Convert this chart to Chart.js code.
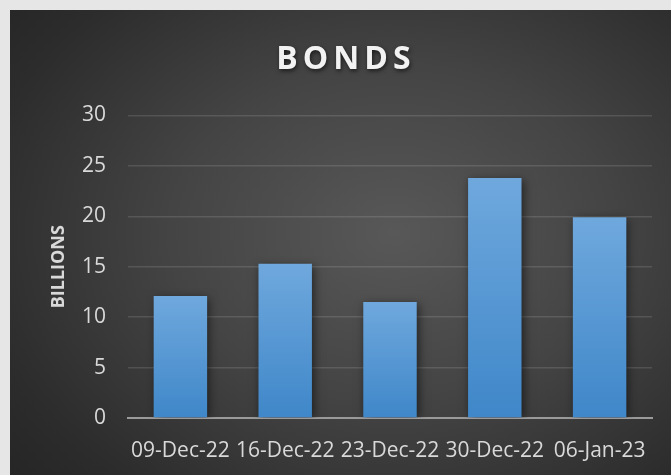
<!DOCTYPE html>
<html>
<head>
<meta charset="utf-8">
<script src="https://cdn.jsdelivr.net/npm/chart.js@4"></script>
<style>
    html, body { margin: 0; padding: 0; background: #e6e6e6; }
    #wrap {
        position: absolute; left: 10px; top: 10px; width: 661px; height: 465px;
        background: radial-gradient(ellipse 75% 80% at 58% 48%, #585858 0%, #444 45%, #2c2c2c 85%, #262626 100%);
    }
</style>
</head>
<body>
<div id="wrap"><canvas id="bondsChart"></canvas></div>
<script>
'use strict';

const labels = ['09-Dec-22', '16-Dec-22', '23-Dec-22', '30-Dec-22', '06-Jan-23'];
const bonds = [12.1, 15.3, 11.5, 23.8, 19.9];
const yTicks = [0, 5, 10, 15, 20, 25, 30];

const FONT = '"Open Sans", "DejaVu Sans", sans-serif';
const TEXT = '#d9d9d9';

// градиент на каждый столбик отдельно
function barFill(context) {
    const chart = context.chart;
    const y = chart.scales.y;
    if (!chart.chartArea || !y || context.raw === undefined) return '#5a9ad6';
    const top = y.getPixelForValue(context.raw);
    const bottom = y.getPixelForValue(0);
    const g = chart.ctx.createLinearGradient(0, top, 0, bottom);
    g.addColorStop(0, '#6fa8dd');
    g.addColorStop(1, '#3f87c9');
    return g;
}

// тень под столбиками
const barShadow = {
    id: 'barShadow',
    beforeDatasetsDraw(chart) {
        const ctx = chart.ctx;
        ctx.save();
        ctx.shadowColor = 'rgba(0,0,0,0.55)';
        ctx.shadowBlur = 9;
        ctx.shadowOffsetX = 2;
        ctx.shadowOffsetY = 2;
    },
    afterDatasetsDraw(chart) {
        chart.ctx.restore();
    }
};

// разрядка букв в заголовке
const spacedTitle = {
    id: 'spacedTitle',
    afterLayout(chart) {
        const t = chart.titleBlock;
        if (!t || t._spaced) return;
        const orig = t.draw;
        t.draw = function () {
            const ctx = chart.ctx;
            ctx.save();
            ctx.translate(-4, 0);
            ctx.letterSpacing = '5px';
            ctx.shadowColor = 'rgba(0,0,0,0.6)';
            ctx.shadowBlur = 4;
            ctx.shadowOffsetX = 1;
            ctx.shadowOffsetY = 2;
            orig.apply(this, arguments);
            ctx.restore();
        };
        t._spaced = true;
    }
};

document.addEventListener('DOMContentLoaded', () => {
    const ctx = document.getElementById('bondsChart').getContext('2d');
    new Chart(ctx, {
        type: 'bar',
        data: {
            labels: labels,
            datasets: [{
                label: 'Bonds',
                data: bonds,
                backgroundColor: barFill,
                borderWidth: 0,
                categoryPercentage: 1,
                barPercentage: 0.51
            }]
        },
        options: {
            responsive: true,
            maintainAspectRatio: false,
            animation: false,
            layout: { padding: { left: 38, right: 19, top: 12, bottom: 6 } },
            plugins: {
                legend: { display: false },
                tooltip: { enabled: false },
                title: {
                    display: true,
                    text: 'BONDS',
                    color: '#f2f2f2',
                    font: { family: FONT, size: 32, weight: 'bold' },
                    padding: { top: 19, bottom: 36 }
                }
            },
            scales: {
                x: {
                    grid: { display: false, drawTicks: false },
                    border: { display: true, color: '#9a9a9a', width: 2 },
                    ticks: {
                        color: TEXT,
                        font: { family: FONT, size: 21 },
                        padding: 20,
                        maxRotation: 0
                    },
                    afterFit: axis => { axis.height = 51; }
                },
                y: {
                    min: 0,
                    max: 30,
                    afterBuildTicks: axis => { axis.ticks = yTicks.map(v => ({ value: v })); },
                    afterFit: axis => { axis.width = 80; },
                    grid: { color: 'rgba(255,255,255,0.12)', lineWidth: 1.5, drawTicks: false },
                    border: { display: false },
                    ticks: {
                        color: TEXT,
                        font: { family: FONT, size: 21 },
                        padding: 22
                    },
                    title: {
                        display: true,
                        text: 'BILLIONS',
                        color: TEXT,
                        font: { family: FONT, size: 18, weight: 'bold' },
                        padding: { top: 0, bottom: 0 }
                    }
                }
            }
        },
        plugins: [barShadow, spacedTitle]
    });
});
</script>
</body>
</html>
